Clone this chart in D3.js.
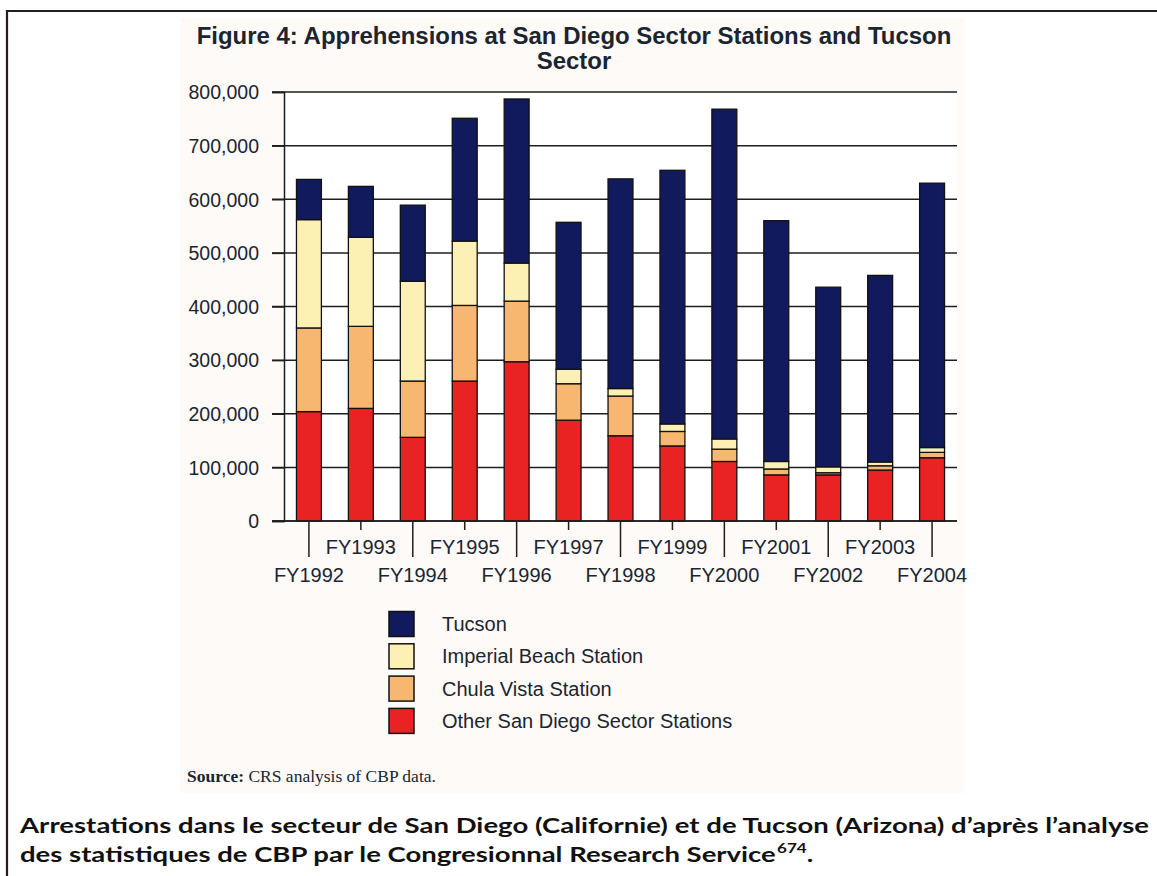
<!DOCTYPE html>
<html>
<head>
<meta charset="utf-8">
<script src="https://cdn.jsdelivr.net/npm/d3@7"></script>
<style>
  html, body { margin: 0; padding: 0; background: #ffffff; }
  svg { display: block; }
</style>
</head>
<body>
<svg id="chart" width="1157" height="876"></svg>
<script>
// ---------- data ----------
const categories = ["FY1992","FY1993","FY1994","FY1995","FY1996","FY1997","FY1998",
                    "FY1999","FY2000","FY2001","FY2002","FY2003","FY2004"];
const seriesNames = ["Other San Diego Sector Stations","Chula Vista Station","Imperial Beach Station","Tucson"];
const otherSD     = [204000, 210000, 156000, 261000, 297000, 188000, 159000, 140000, 111000,  86000,  86000,  95000, 118000];
const chulaVista  = [156000, 153000, 105000, 141000, 113000,  68000,  74000,  27000,  23000,  11000,   4000,   8000,  10000];
const imperialB   = [202000, 166000, 186000, 120000,  71000,  27000,  14000,  14000,  19000,  14000,  11000,   7000,   9000];
const tucson      = [ 75000,  95000, 142000, 229000, 306000, 274000, 391000, 473000, 615000, 449000, 335000, 348000, 493000];
const yTicks = [0,100000,200000,300000,400000,500000,600000,700000,800000];
const legendOrder = ["Tucson","Imperial Beach Station","Chula Vista Station","Other San Diego Sector Stations"];
const titleLines = ["Figure 4: Apprehensions at San Diego Sector Stations and Tucson","Sector"];
const sourceBold = "Source:";
const sourceText = " CRS analysis of CBP data.";
const captionLine1 = "Arrestations dans le secteur de San Diego (Californie) et de Tucson (Arizona) d\u2019apr\u00e8s l\u2019analyse";
const captionLine2 = "des statistiques de CBP par le Congresionnal Research Service";
const captionNote = "674";

// ---------- styles ----------
const colors = {
  "Tucson": "#111a5c",
  "Imperial Beach Station": "#fdf0b5",
  "Chula Vista Station": "#f8b770",
  "Other San Diego Sector Stations": "#e92224"
};
const textColor = "#1a2530";
const font = "'Liberation Sans', Arial, sans-serif";

const svg = d3.select("#chart");

// page frame
svg.append("line").attr("x1", 7).attr("x2", 1157).attr("y1", 11).attr("y2", 11)
  .attr("stroke", "#231f20").attr("stroke-width", 2.2);
svg.append("line").attr("x1", 7).attr("x2", 7).attr("y1", 10).attr("y2", 876)
  .attr("stroke", "#231f20").attr("stroke-width", 2.2);

// faint scanned background of the figure
svg.append("rect").attr("x", 180).attr("y", 18).attr("width", 785).attr("height", 775)
  .attr("fill", "#fefaf8");

// ---------- scales ----------
const x = d3.scaleBand().domain(categories).range([284, 957]).paddingInner(0.52).paddingOuter(0.24);
const y = d3.scaleLinear().domain([0, 800000]).range([521, 92]);

// plot background
svg.append("rect").attr("x", 284).attr("y", 92).attr("width", 673).attr("height", 429).attr("fill", "#ffffff");

// gridlines
svg.append("g").selectAll("line").data(yTicks).join("line")
  .attr("x1", 272).attr("x2", 957)
  .attr("y1", d => y(d)).attr("y2", d => y(d))
  .attr("stroke", "#1e1e1e").attr("stroke-width", 1.5);

// y axis
const yAxis = svg.append("g").attr("transform", "translate(284,0)")
  .call(d3.axisLeft(y).tickValues(yTicks).tickSize(12).tickPadding(13).tickFormat(d3.format(",")));
yAxis.select(".domain").attr("stroke", "#1e1e1e").attr("stroke-width", 1.5);
yAxis.selectAll(".tick line").attr("stroke", "#1e1e1e").attr("stroke-width", 1.5);
yAxis.selectAll("text").attr("font-family", font).attr("font-size", 19.5).attr("fill", textColor)
  .attr("dy", "0.35em");

// ---------- stacked bars ----------
const rows = categories.map((c, i) => ({
  cat: c,
  "Other San Diego Sector Stations": otherSD[i],
  "Chula Vista Station": chulaVista[i],
  "Imperial Beach Station": imperialB[i],
  "Tucson": tucson[i]
}));
const stacked = d3.stack().keys(seriesNames)(rows);

svg.append("g").selectAll("g").data(stacked).join("g")
  .attr("fill", d => colors[d.key])
  .selectAll("rect").data(d => d).join("rect")
  .attr("x", d => x(d.data.cat))
  .attr("width", x.bandwidth())
  .attr("y", d => y(d[1]))
  .attr("height", d => y(d[0]) - y(d[1]))
  .attr("stroke", "#111").attr("stroke-width", 1.3);

// baseline
svg.append("line").attr("x1", 272).attr("x2", 957).attr("y1", y(0)).attr("y2", y(0))
  .attr("stroke", "#1e1e1e").attr("stroke-width", 1.6);

// ---------- x axis (staggered labels) ----------
const xg = svg.append("g");
categories.forEach((c, i) => {
  const cx = x(c) + x.bandwidth() / 2;
  const lower = i % 2 === 0;
  xg.append("line").attr("x1", cx).attr("x2", cx)
    .attr("y1", y(0)).attr("y2", lower ? 557 : 530)
    .attr("stroke", "#1e1e1e").attr("stroke-width", 1.5);
  xg.append("text").attr("x", cx).attr("y", lower ? 582 : 554)
    .attr("text-anchor", "middle")
    .attr("font-family", font).attr("font-size", 20).attr("fill", textColor)
    .text(c);
});

// ---------- title (fit to the reference width) ----------
const tg = svg.append("g");
const t1 = tg.append("text").attr("x", 574).attr("y", 44).attr("text-anchor", "middle")
  .attr("font-family", font).attr("font-weight", "bold").attr("font-size", 20)
  .attr("fill", textColor).text(titleLines[0]);
const tSize = 20 * 755 / t1.node().getComputedTextLength();
t1.attr("font-size", tSize);
tg.append("text").attr("x", 574).attr("y", 69).attr("text-anchor", "middle")
  .attr("font-family", font).attr("font-weight", "bold").attr("font-size", tSize)
  .attr("fill", textColor).text(titleLines[1]);

// ---------- legend ----------
const lg = svg.append("g");
legendOrder.forEach((k, i) => {
  const cy = 624 + i * 32.3;
  lg.append("rect").attr("x", 389).attr("y", cy - 12.5).attr("width", 25).attr("height", 25)
    .attr("fill", colors[k]).attr("stroke", "#111").attr("stroke-width", 1.5);
  lg.append("text").attr("x", 442).attr("y", cy + 7)
    .attr("font-family", font).attr("font-size", 20).attr("fill", textColor)
    .text(k);
});

// ---------- source ----------
const src = svg.append("text").attr("x", 187).attr("y", 782)
  .attr("font-family", "'Liberation Serif', 'Times New Roman', serif").attr("font-size", 17.5)
  .attr("fill", textColor);
src.append("tspan").attr("font-weight", "bold").text(sourceBold);
src.append("tspan").text(sourceText);

// ---------- caption (narrow bold face, stretched horizontally to the reference width) ----------
const capFont = "Lato, 'Open Sans', sans-serif";
const capSize = 20.5;
const capG = svg.append("g");
const cap2 = capG.append("text").attr("x", 0).attr("y", 862)
  .attr("font-family", capFont).attr("font-weight", "bold").attr("font-size", capSize)
  .attr("fill", "#111");
const cap2main = cap2.append("tspan").text(captionLine2);
const sx = 756 / cap2main.node().getComputedTextLength();
cap2.append("tspan").attr("font-size", capSize * 0.62).attr("dy", -capSize * 0.45).attr("dx", 1).text(captionNote);
cap2.append("tspan").attr("dy", capSize * 0.45).text(".");
capG.append("text").attr("x", 0).attr("y", 833)
  .attr("font-family", capFont).attr("font-weight", "bold").attr("font-size", capSize)
  .attr("fill", "#111")
  .attr("textLength", 1129 / sx).attr("lengthAdjust", "spacing")
  .text(captionLine1);
capG.attr("transform", `translate(20,0) scale(${sx},1)`);
</script>
</body>
</html>
